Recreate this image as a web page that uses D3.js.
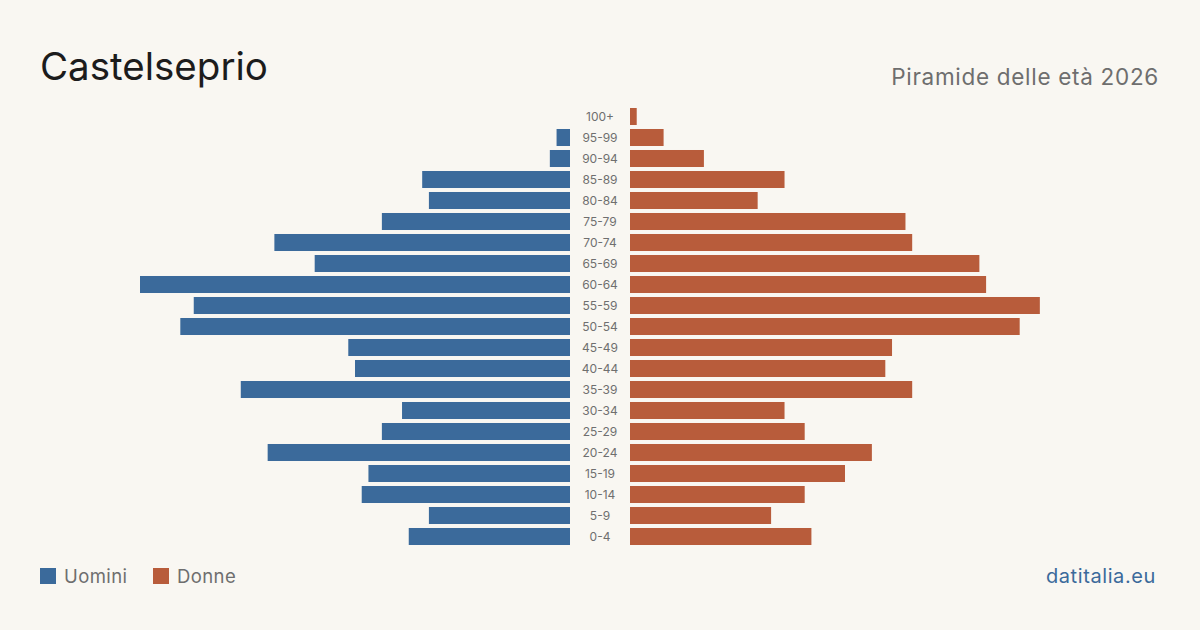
<!DOCTYPE html>
<html>
<head>
<meta charset="utf-8">
<script src="https://cdn.jsdelivr.net/npm/d3@7"></script>
<style>
  html, body { margin: 0; padding: 0; background: #f9f7f2; }
  svg { display: block; font-family: Inter, "Open Sans", sans-serif; }
</style>
</head>
<body>
<svg id="chart" width="1200" height="630"></svg>
<script>
const ageGroups = ["100+","95-99","90-94","85-89","80-84","75-79","70-74","65-69","60-64","55-59","50-54","45-49","40-44","35-39","30-34","25-29","20-24","15-19","10-14","5-9","0-4"];
const men   = [0, 2, 3, 22, 21, 28, 44, 38, 64, 56, 58, 33, 32, 49, 25, 28, 45, 30, 31, 21, 24];
const women = [1, 5, 11, 23, 19, 41, 42, 52, 53, 61, 58, 39, 38, 42, 23, 26, 36, 32, 26, 21, 27];
const legendLabels = ["Uomini", "Donne"];

const colors = { men: "#3b6a9b", women: "#b85c3b" };
const svg = d3.select("#chart");
svg.append("rect").attr("width", 1200).attr("height", 630).attr("fill", "#f9f7f2");

const maxVal = d3.max(men.concat(women));
const xLeft = d3.scaleLinear().domain([0, maxVal]).range([570, 140]);
const xRight = d3.scaleLinear().domain([0, maxVal]).range([630, 1060]);
const y = d3.scaleBand().domain(ageGroups).range([106, 547]).paddingInner(0.19).paddingOuter(0.095);

svg.append("g").selectAll("rect").data(ageGroups).join("rect")
  .attr("x", (d, i) => xLeft(men[i]))
  .attr("y", d => y(d))
  .attr("width", (d, i) => xLeft(0) - xLeft(men[i]))
  .attr("height", y.bandwidth())
  .attr("fill", colors.men);

svg.append("g").selectAll("rect").data(ageGroups).join("rect")
  .attr("x", xRight(0))
  .attr("y", d => y(d))
  .attr("width", (d, i) => xRight(women[i]) - xRight(0))
  .attr("height", y.bandwidth())
  .attr("fill", colors.women);

svg.append("g").selectAll("text").data(ageGroups).join("text")
  .attr("x", 600)
  .attr("y", d => y(d) + y.bandwidth() / 2)
  .attr("dy", "0.35em")
  .attr("text-anchor", "middle")
  .attr("font-size", 12)
  .attr("fill", "#6f6f6f")
  .text(d => d);

svg.append("text").attr("x", 40).attr("y", 80)
  .attr("font-size", 38.5).attr("fill", "#1c1c1c").text("Castelseprio");

svg.append("text").attr("x", 1159).attr("y", 85).attr("text-anchor", "end")
  .attr("font-size", 22.5).attr("letter-spacing", 0.7).attr("fill", "#6e6e6e").text("Piramide delle età 2026");

const leg = svg.append("g");
const legX = [40, 153];
[colors.men, colors.women].forEach((c, i) => {
  leg.append("rect").attr("x", legX[i]).attr("y", 568).attr("width", 16).attr("height", 16).attr("fill", c);
  leg.append("text").attr("x", legX[i] + 24).attr("y", 583).attr("font-size", 18.5).attr("letter-spacing", 0.4).attr("fill", "#6e6e6e").text(legendLabels[i]);
});

svg.append("text").attr("x", 1156).attr("y", 583).attr("text-anchor", "end")
  .attr("font-size", 20).attr("letter-spacing", 0.6).attr("fill", "#3b6a9b").text("datitalia.eu");
</script>
</body>
</html>
